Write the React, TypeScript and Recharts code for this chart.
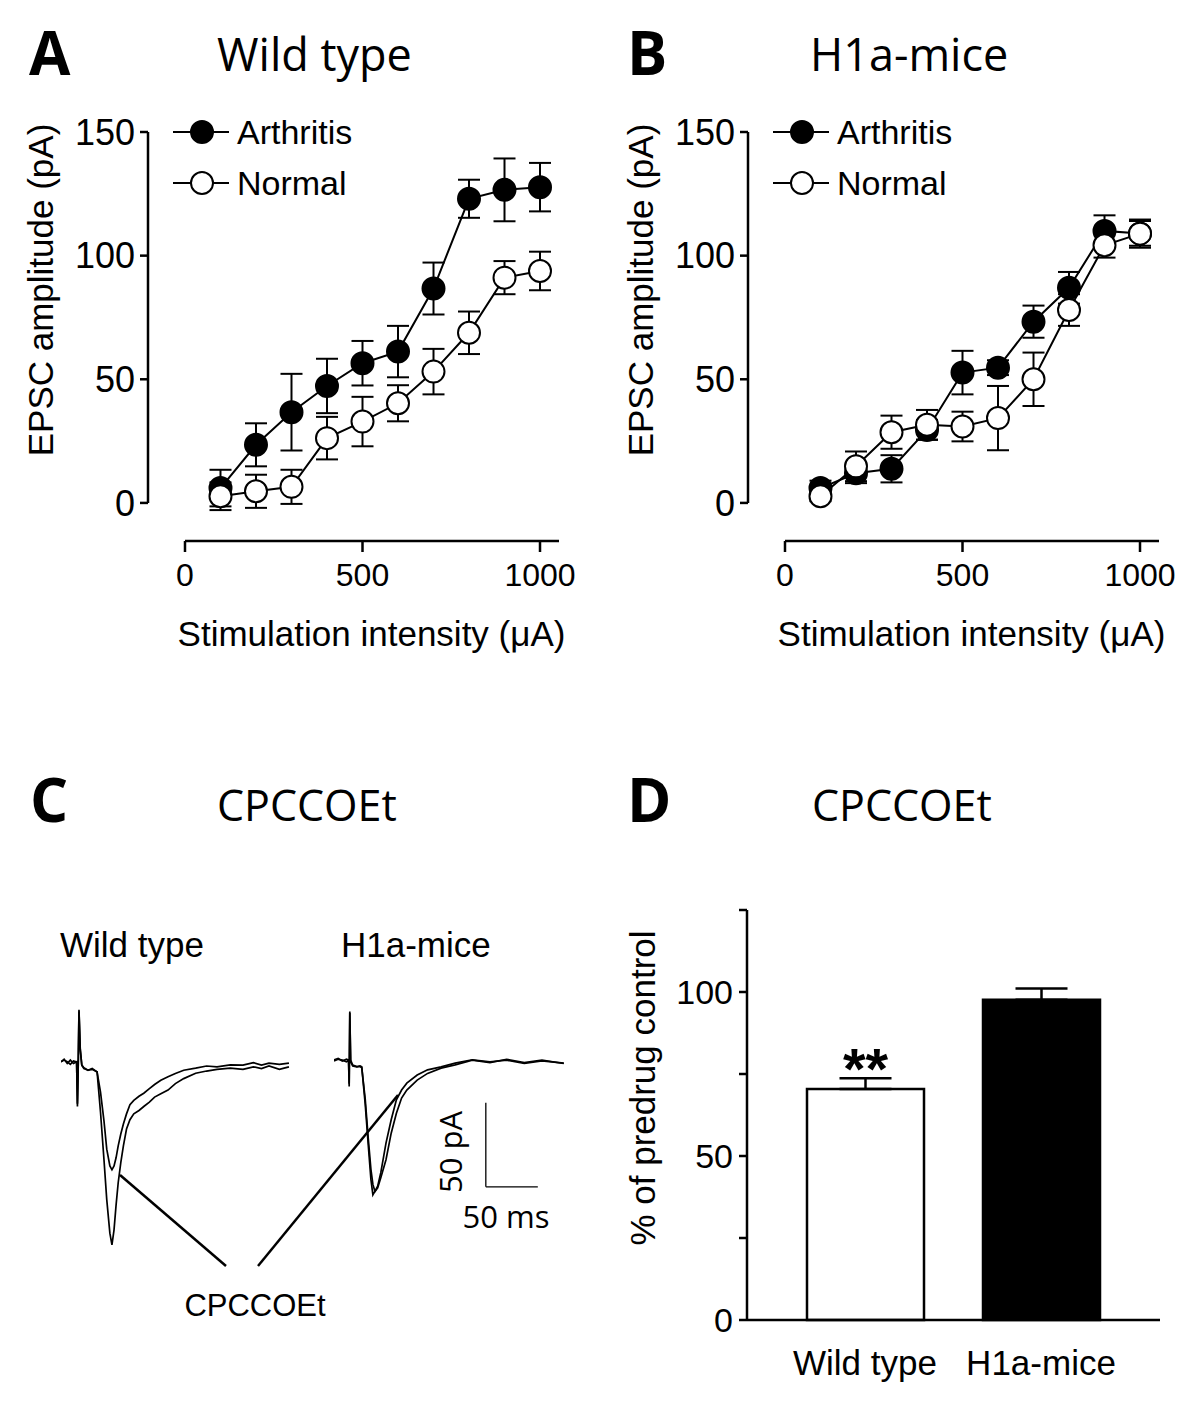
import React from 'react';
import {
  LineChart, Line, XAxis, YAxis, ErrorBar, ReferenceLine, Legend,
  BarChart, Bar, Cell, LabelList,
} from 'recharts';

// ---------- Panel A / B data ----------
const intensities = [100, 200, 300, 400, 500, 600, 700, 800, 900, 1000];
const wtArthritis = [6, 23.5, 36.7, 47.3, 56.5, 61.2, 86.7, 123, 126.6, 127.7];
const wtArthritisSem = [7.4, 8.7, 15.5, 11, 9, 10.4, 10.5, 7.7, 12.7, 9.8];
const wtNormal = [2.7, 4.7, 6.5, 26.2, 32.9, 40.3, 53.1, 68.8, 91.1, 93.8];
const wtNormalSem = [5.6, 6.7, 6.9, 8.6, 10, 7.3, 9.2, 8.6, 6.7, 7.8];
const h1aArthritis = [6, 12, 13.8, 29.5, 52.7, 54.7, 73.3, 87, 110, 109];
const h1aArthritisSem = [3, 4, 5.5, 4, 8.8, 3, 6.5, 6.4, 6.3, 5];
const h1aNormal = [2.7, 14.8, 28.6, 31.6, 30.9, 34.3, 50, 78, 104.2, 108.9];
const h1aNormalSem = [2, 6, 6.7, 6, 6, 13, 10.8, 6.4, 5, 5.7];
const xTicks = [0, 500, 1000];
const yTicks = [0, 50, 100, 150];
const seriesNames = ['Arthritis', 'Normal'];

// ---------- Panel C data (traces, ms / pA) ----------
const wtTimes = [0, 3, 6, 9, 12, 15, 15.8, 16.5, 17.3, 18.5, 20, 22, 26, 30, 34.7, 38, 41.3, 44, 47, 49, 51, 53, 55, 57.5, 60, 63, 66.3, 70, 75, 79.6, 85, 90, 96, 102.9, 110, 118, 129.5, 140, 150, 162.8, 175, 185, 192.8, 200, 210, 219.2];
const wtControl = [0, 1.5, -1, 1, -1, 0, -26.6, -5, 31, 8, -2, -4, -5, -4.5, -6, -30, -58, -82, -102, -109, -100, -85, -72, -60, -50, -40, -34.5, -31, -29, -26.6, -24, -21, -19, -16.8, -13, -10, -6.8, -5.5, -4.5, -3.8, -4.5, -3, -4, -2.5, -4.5, -3];
const wtCpccoet = [0, 1, 0, -1.5, 0.5, 0, -25, -4, 30, 7, -2, -3.5, -5, -4, -6, -18, -35, -52, -62, -64.3, -62, -57, -50, -43, -37, -31, -25.6, -23, -20.5, -18.7, -16, -13.5, -11, -8.9, -7, -5, -3.8, -2.5, -3, -1.8, -2, -0.5, -2, -0.8, -1.5, -0.8];
const h1aTimes = [0, 4, 8, 12, 14, 14.6, 15.2, 16, 18, 22, 25, 26.7, 30, 33, 35.5, 37.4, 39.4, 42, 45, 50, 55, 60, 65, 70, 80, 90, 103, 116.5, 133, 150, 166, 183, 200, 221];
const h1aControl = [1.2, 2, 0.5, 1.5, 1, -14.7, 30, 1, -2, -2.8, -2.5, -3, -25, -50, -70, -79.2, -77, -74, -66, -48.4, -34.5, -22.6, -16.8, -12.7, -7.9, -4.8, -3, -0.8, 1.2, 0, 1, -1, 0.5, -0.8];
const h1aCpccoet = [0.5, 1.5, 1, 0, 1, -13, 29, 0, -2.5, -3, -2.8, -3.5, -22, -46, -64, -73, -77.2, -75, -69, -58.3, -42.5, -30.6, -21.6, -16.8, -10.9, -6.9, -3.8, -1.8, 1, -0.5, 1.5, -0.5, 1, -1];
const scaleBarMs = 50;
const scaleBarPa = 50;
const scaleBarOrigin = { t: 146, i: -74.4 };

// ---------- Panel D data ----------
const groups = ['Wild type', 'H1a-mice'];
const predrugPct = [70.4, 97.6];
const predrugSem = [3.3, 3.5];
const significance = ['**', ''];
const dTicks = [0, 25, 50, 75, 100, 125];

// ---------- styles ----------
const ARIAL = '"Liberation Sans", Arial, sans-serif';
const CAL = '"Open Sans", sans-serif';
const AX = 2.5;
const markerFill: Record<string, string> = { Arthritis: '#000', Normal: '#fff' };
const barFills = ['#fff', '#000'];

const X_MIN = -104.2;
const X_MAX = 1053.5;
const Y_MIN = -15.4;
const Y_MAX = 150;

function LegendBox(props: any) {
  const payload = props.payload || [];
  return (
    <div style={{ fontFamily: ARIAL, fontSize: 34, color: '#000' }}>
      {payload.map((e: any) => (
        <div key={e.value} style={{ display: 'flex', alignItems: 'center', height: 51 }}>
          <svg width={56} height={26} style={{ display: 'block', overflow: 'visible' }}>
            <line x1={0} y1={13} x2={56} y2={13} stroke="#000" strokeWidth={2} />
            <circle cx={29} cy={13} r={11} fill={markerFill[e.value]} stroke="#000" strokeWidth={2} />
          </svg>
          <span style={{ marginLeft: 8, lineHeight: '34px' }}>{e.value}</span>
        </div>
      ))}
    </div>
  );
}

function EpscPanel(props: { left: number; arthritis: number[]; arthritisSem: number[]; normal: number[]; normalSem: number[] }) {
  const data = intensities.map((x, i) => ({
    x,
    arthritis: props.arthritis[i],
    arthritisErr: props.arthritisSem[i],
    normal: props.normal[i],
    normalErr: props.normalSem[i],
  }));
  return (
    <div style={{ position: 'absolute', left: props.left, top: 0 }}>
      <LineChart width={600} height={700} data={data} margin={{ top: 132, right: 41, bottom: 99, left: 48 }}>
        <XAxis
          type="number" dataKey="x" domain={[X_MIN, X_MAX]} allowDataOverflow ticks={xTicks}
          axisLine={false} stroke="#000" tickLine={{ stroke: '#000', strokeWidth: AX }}
          tickSize={11} tickMargin={11} height={60}
          tick={{ fill: '#000', fontSize: 32, fontFamily: ARIAL }}
        />
        <YAxis
          type="number" domain={[Y_MIN, Y_MAX]} allowDataOverflow ticks={yTicks}
          axisLine={false} stroke="#000" tickLine={{ stroke: '#000', strokeWidth: AX }}
          tickSize={8} tickMargin={5} width={100}
          tick={{ fill: '#000', fontSize: 36, fontFamily: ARIAL }}
        />
        <ReferenceLine segment={[{ x: 0, y: Y_MIN }, { x: X_MAX, y: Y_MIN }]} stroke="#000" strokeWidth={AX} ifOverflow="visible" />
        <ReferenceLine segment={[{ x: X_MIN, y: 0 }, { x: X_MIN, y: Y_MAX }]} stroke="#000" strokeWidth={AX} ifOverflow="visible" />
        <Line
          dataKey="arthritis" name={seriesNames[0]} type="linear" stroke="#000" strokeWidth={2}
          dot={{ r: 11, fill: '#000', stroke: '#000', strokeWidth: 2 }} isAnimationActive={false}
        >
          <ErrorBar dataKey="arthritisErr" width={11} stroke="#000" strokeWidth={2} direction="y" />
        </Line>
        <Line
          dataKey="normal" name={seriesNames[1]} type="linear" stroke="#000" strokeWidth={2}
          dot={{ r: 11, fill: '#fff', stroke: '#000', strokeWidth: 2 }} isAnimationActive={false}
        >
          <ErrorBar dataKey="normalErr" width={11} stroke="#000" strokeWidth={2} direction="y" />
        </Line>
        <Legend
          layout="vertical" align="center" verticalAlign="middle"
          wrapperStyle={{ left: 173, top: 106, width: 280 }}
          content={<LegendBox />}
        />
      </LineChart>
    </div>
  );
}

function TracePanel(props: { left: number; times: number[]; control: number[]; drug: number[]; scaleBar?: boolean }) {
  const ctl = props.times.map((t, k) => ({ t, i: props.control[k] }));
  const drg = props.times.map((t, k) => ({ t, i: props.drug[k] }));
  const sb = scaleBarOrigin;
  return (
    <div style={{ position: 'absolute', left: props.left, top: 1003 }}>
      <LineChart width={240} height={252} margin={{ top: 0, right: 0, bottom: 0, left: 0 }}>
        <XAxis type="number" dataKey="t" domain={[0, 230.8]} allowDataOverflow hide />
        <YAxis type="number" dataKey="i" domain={[-115, 35]} allowDataOverflow hide />
        <Line data={ctl} dataKey="i" type="linear" stroke="#000" strokeWidth={1.7} dot={false} isAnimationActive={false} />
        <Line data={drg} dataKey="i" type="linear" stroke="#000" strokeWidth={1.7} dot={false} isAnimationActive={false} />
        {props.scaleBar && (
          <ReferenceLine
            segment={[{ x: sb.t, y: sb.i }, { x: sb.t + scaleBarMs, y: sb.i }]}
            stroke="#000" strokeWidth={1.3} ifOverflow="visible"
          />
        )}
        {props.scaleBar && (
          <ReferenceLine
            segment={[{ x: sb.t, y: sb.i }, { x: sb.t, y: sb.i + scaleBarPa }]}
            stroke="#000" strokeWidth={1.3} ifOverflow="visible"
          />
        )}
      </LineChart>
    </div>
  );
}

function BarPanel() {
  const data = groups.map((g, i) => ({ group: g, pct: predrugPct[i], err: [0, predrugSem[i]], sig: significance[i] }));
  return (
    <div style={{ position: 'absolute', left: 600, top: 860 }}>
      <BarChart width={600} height={546} data={data} margin={{ top: 50, right: 40, bottom: 26, left: 47 }}>
        <XAxis
          dataKey="group" type="category" padding={{ left: 30, right: 31 }}
          axisLine={{ stroke: '#000', strokeWidth: AX }} tickLine={false} tickSize={0} tickMargin={30} height={60}
          tick={{ fill: '#000', fontSize: 35, fontFamily: ARIAL }}
        />
        <YAxis
          type="number" domain={[0, 125]} ticks={dTicks} interval={0}
          tickFormatter={(v: number) => (v % 50 === 0 ? String(v) : '')}
          axisLine={{ stroke: '#000', strokeWidth: AX }} tickLine={{ stroke: '#000', strokeWidth: AX }}
          tickSize={8} tickMargin={6} width={100}
          tick={{ fill: '#000', fontSize: 34, fontFamily: ARIAL }}
        />
        <Bar dataKey="pct" barSize={117} stroke="#000" strokeWidth={AX} isAnimationActive={false}>
          {data.map((d, i) => (
            <Cell key={d.group} fill={barFills[i]} />
          ))}
          <ErrorBar dataKey="err" width={26} stroke="#000" strokeWidth={AX} direction="y" />
          <LabelList
            dataKey="sig" position="top" offset={0} fill="#000" stroke="none"
            fontSize={58} fontWeight={700} fontFamily={ARIAL}
          />
        </Bar>
      </BarChart>
    </div>
  );
}

function Overlay() {
  const t = { fill: '#000' };
  return (
    <svg width={1200} height={1406} style={{ position: 'absolute', left: 0, top: 0, pointerEvents: 'none' }}>
      {/* panel letters */}
      <text x={29} y={75} fontFamily={CAL} fontWeight={700} fontSize={60} {...t}>A</text>
      <text x={627} y={75} fontFamily={CAL} fontWeight={700} fontSize={60} {...t}>B</text>
      <text x={30} y={822} fontFamily={CAL} fontWeight={700} fontSize={60} {...t}>C</text>
      <text x={627} y={822} fontFamily={CAL} fontWeight={700} fontSize={60} {...t}>D</text>
      {/* titles */}
      <text x={217} y={71} fontFamily={CAL} fontSize={45} {...t}>Wild type</text>
      <text x={810} y={71} fontFamily={CAL} fontSize={45} {...t}>H1a-mice</text>
      <text x={217} y={821} fontFamily={CAL} fontSize={43} {...t}>CPCCOEt</text>
      <text x={812} y={821} fontFamily={CAL} fontSize={43} {...t}>CPCCOEt</text>
      {/* axis titles A/B */}
      <text x={53} y={290} transform="rotate(-90 53 290)" textAnchor="middle" fontFamily={ARIAL} fontSize={35} {...t}>EPSC amplitude (pA)</text>
      <text x={653} y={290} transform="rotate(-90 653 290)" textAnchor="middle" fontFamily={ARIAL} fontSize={35} {...t}>EPSC amplitude (pA)</text>
      <text x={371.5} y={646} textAnchor="middle" fontFamily={ARIAL} fontSize={35} {...t}>Stimulation intensity (μA)</text>
      <text x={971.5} y={646} textAnchor="middle" fontFamily={ARIAL} fontSize={35} {...t}>Stimulation intensity (μA)</text>
      {/* D axis title */}
      <text x={655} y={1088} transform="rotate(-90 655 1088)" textAnchor="middle" fontFamily={ARIAL} fontSize={35} {...t}>% of predrug control</text>
      {/* C labels */}
      <text x={60} y={957} fontFamily={ARIAL} fontSize={35} {...t}>Wild type</text>
      <text x={341} y={957} fontFamily={ARIAL} fontSize={35} {...t}>H1a-mice</text>
      <text x={462} y={1152} transform="rotate(-90 462 1152)" textAnchor="middle" fontFamily={CAL} fontSize={31} {...t}>50 pA</text>
      <text x={506} y={1228} textAnchor="middle" fontFamily={CAL} fontSize={31} {...t}>50 ms</text>
      <text x={255} y={1316} textAnchor="middle" fontFamily={ARIAL} fontSize={31} {...t}>CPCCOEt</text>
      <line x1={120} y1={1175} x2={226} y2={1266} stroke="#000" strokeWidth={2.5} />
      <line x1={258} y1={1266} x2={398} y2={1095} stroke="#000" strokeWidth={2.5} />
    </svg>
  );
}

export default function App() {
  return (
    <div style={{ position: 'absolute', left: 0, top: 0, width: 1200, height: 1406, background: '#fff', overflow: 'hidden' }}>
      <EpscPanel left={0} arthritis={wtArthritis} arthritisSem={wtArthritisSem} normal={wtNormal} normalSem={wtNormalSem} />
      <EpscPanel left={600} arthritis={h1aArthritis} arthritisSem={h1aArthritisSem} normal={h1aNormal} normalSem={h1aNormalSem} />
      <TracePanel left={61} times={wtTimes} control={wtControl} drug={wtCpccoet} />
      <TracePanel left={334} times={h1aTimes} control={h1aControl} drug={h1aCpccoet} scaleBar />
      <BarPanel />
      <Overlay />
    </div>
  );
}
